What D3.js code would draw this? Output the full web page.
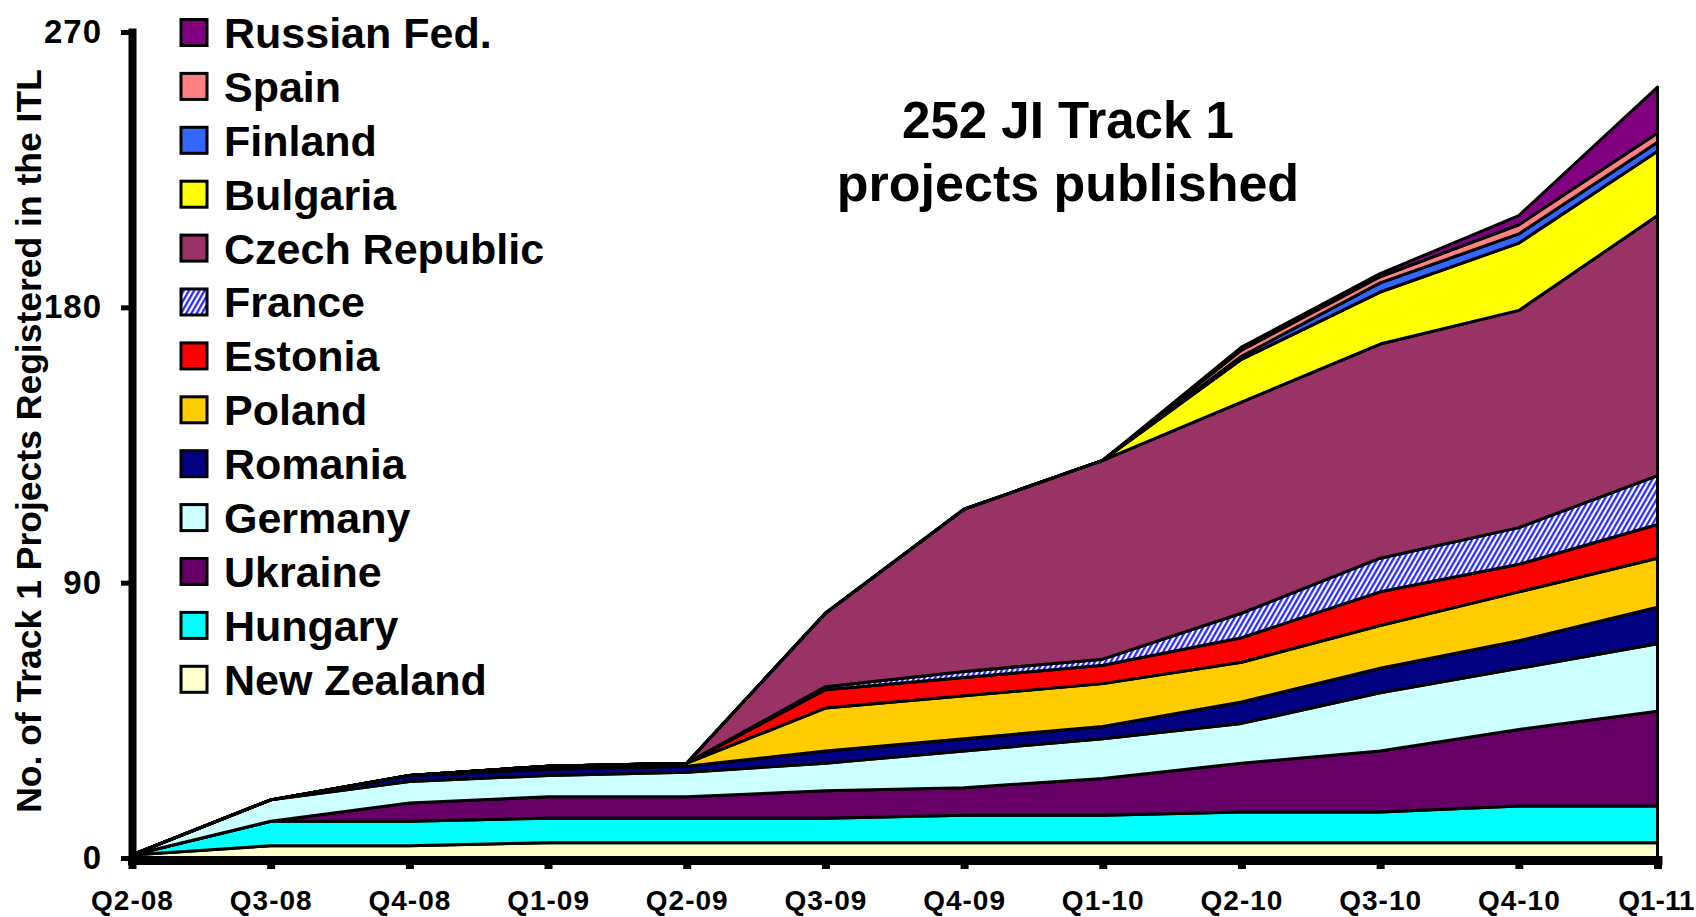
<!DOCTYPE html>
<html>
<head>
<meta charset="utf-8">
<script src="https://cdn.jsdelivr.net/npm/d3@7"></script>
<style>
  body { margin: 0; background: #fff; }
  svg { display: block; font-family: "Liberation Sans", Arial, sans-serif; font-weight: bold; }
</style>
</head>
<body>
<svg id="chart" width="1696" height="917"></svg>
<script>
// quarters on the x axis
var quarters = ["Q2-08", "Q3-08", "Q4-08", "Q1-09", "Q2-09", "Q3-09", "Q4-09", "Q1-10", "Q2-10", "Q3-10", "Q4-10", "Q1-11"];

// projects per host country (not cumulative)
var newZealand = [1, 4, 4, 5, 5, 5, 5, 5, 5, 5, 5, 5];
var hungary    = [0, 8, 8, 8, 8, 8, 9, 9, 10, 10, 12, 12];
var ukraine    = [0, 0, 6, 7, 7, 9, 9, 12, 16, 20, 25, 31];
var germany    = [0, 7, 7, 7, 8, 9, 12, 13, 13, 19, 20, 22];
var romania    = [0, 0, 2, 2, 2, 4, 4, 4, 7, 8, 9, 12];
var poland     = [0, 0, 0, 1, 1, 14, 14, 14, 13, 14, 16, 16];
var estonia    = [0, 0, 0, 0, 0, 6, 6, 6, 8, 11, 9, 11];
var france     = [0, 0, 0, 0, 0, 1, 2, 2, 8, 11, 12, 16];
var czech      = [0, 0, 0, 0, 0, 24, 53, 65, 69, 70, 71, 85];
var bulgaria   = [0, 0, 0, 0, 0, 0, 0, 0, 14, 17, 22, 21];
var finland    = [0, 0, 0, 0, 0, 0, 0, 0, 1, 3, 3, 3];
var spain      = [0, 0, 0, 0, 0, 0, 0, 0, 2, 2, 3, 3];
var russia     = [0, 0, 0, 0, 0, 0, 0, 0, 1, 1, 3, 15];

var yTicks = [0, 90, 180, 270];

// bottom to top
var series = [
    { name: "New Zealand", values: newZealand, fill: "#FFFFCC" },
    { name: "Hungary", values: hungary, fill: "#00FFFF" },
    { name: "Ukraine", values: ukraine, fill: "#660066" },
    { name: "Germany", values: germany, fill: "#CCFFFF" },
    { name: "Romania", values: romania, fill: "#000080" },
    { name: "Poland", values: poland, fill: "#FFCC00" },
    { name: "Estonia", values: estonia, fill: "#FF0000" },
    { name: "France", values: france, fill: "url(#hatch)" },
    { name: "Czech Republic", values: czech, fill: "#993366" },
    { name: "Bulgaria", values: bulgaria, fill: "#FFFF00" },
    { name: "Finland", values: finland, fill: "#3366FF" },
    { name: "Spain", values: spain, fill: "#FF8080" },
    { name: "Russian Fed.", values: russia, fill: "#800080" }
];

var svg = d3.select("#chart");

// hatch for France
var pat = svg.append("defs").append("pattern")
    .attr("id", "hatch")
    .attr("patternUnits", "userSpaceOnUse")
    .attr("width", 4.5)
    .attr("height", 10)
    .attr("patternTransform", "rotate(30)");
pat.append("rect").attr("width", 4.5).attr("height", 10).attr("fill", "#fff");
pat.append("line").attr("x1", 1.2).attr("y1", 0).attr("x2", 1.2).attr("y2", 10)
    .attr("stroke", "#1f1fff").attr("stroke-width", 2.2);

var x = d3.scalePoint().domain(quarters).range([132, 1657.5]);
var y = d3.scaleLinear().domain([0, 270]).range([858, 32]);

// table for the stack
var rows = quarters.map(function (q, i) {
    var r = { quarter: q };
    series.forEach(function (s) { r[s.name] = s.values[i]; });
    return r;
});
var stacked = d3.stack().keys(series.map(function (s) { return s.name; }))(rows);

var area = d3.area()
    .x(function (d) { return x(d.data.quarter); })
    .y0(function (d) { return y(d[0]); })
    .y1(function (d) { return y(d[1]); });

svg.append("g")
    .selectAll("path")
    .data(stacked)
    .enter()
    .append("path")
    .attr("d", area)
    .attr("fill", function (d, i) { return series[i].fill; })
    .attr("stroke", "#000")
    .attr("stroke-width", 3)
    .attr("stroke-linejoin", "round");

// x axis
var xAxis = svg.append("g")
    .attr("transform", "translate(0,860)")
    .call(d3.axisBottom(x).tickSize(9).tickSizeOuter(0).tickPadding(21));
xAxis.select(".domain").attr("stroke-width", 9).attr("stroke-linecap", "square");
xAxis.selectAll(".tick line").attr("stroke-width", 8);
xAxis.selectAll(".tick text")
    .attr("fill", "#000")
    .style("font-size", "28px")
    .style("letter-spacing", "1px")
    .style("font-weight", "bold");
// last label sits against the right edge
xAxis.selectAll(".tick text")
    .filter(function (d) { return d === quarters[quarters.length - 1]; })
    .attr("text-anchor", "end")
    .attr("x", 1694 - x(quarters[quarters.length - 1]))
    .style("letter-spacing", "0px");

// y axis
var yAxis = svg.append("g")
    .attr("transform", "translate(132,0)")
    .call(d3.axisLeft(y).tickValues(yTicks).tickSize(11).tickSizeOuter(0).tickPadding(19));
yAxis.select(".domain").attr("stroke-width", 8).attr("stroke-linecap", "square");
yAxis.selectAll(".tick line").attr("stroke-width", 5);
yAxis.selectAll(".tick text")
    .attr("fill", "#000")
    .style("font-size", "33px")
    .style("letter-spacing", "1px")
    .style("font-weight", "bold");

// y axis title
svg.append("text")
    .attr("transform", "translate(41,441) rotate(-90)")
    .attr("text-anchor", "middle")
    .style("font-size", "35.5px")
    .text("No. of Track 1 Projects Registered in the ITL");

// chart title
svg.append("text")
    .attr("x", 1068)
    .attr("y", 138)
    .attr("text-anchor", "middle")
    .style("font-size", "51px")
    .text("252 JI Track 1");
svg.append("text")
    .attr("x", 1068)
    .attr("y", 201)
    .attr("text-anchor", "middle")
    .style("font-size", "52px")
    .text("projects published");

// legend, top entry is the top layer
var legendItems = series.slice().reverse();
var legend = svg.append("g")
    .selectAll("g")
    .data(legendItems)
    .enter()
    .append("g")
    .attr("transform", function (d, i) { return "translate(181," + (32.5 + i * 53.9) + ")"; });
legend.append("rect")
    .attr("x", 0)
    .attr("y", -13)
    .attr("width", 26)
    .attr("height", 26)
    .attr("fill", function (d) { return d.fill; })
    .attr("stroke", "#000")
    .attr("stroke-width", 3);
legend.append("text")
    .attr("x", 43)
    .attr("dy", "0.36em")
    .style("font-size", "43px")
    .text(function (d) { return d.name; });
</script>
</body>
</html>
